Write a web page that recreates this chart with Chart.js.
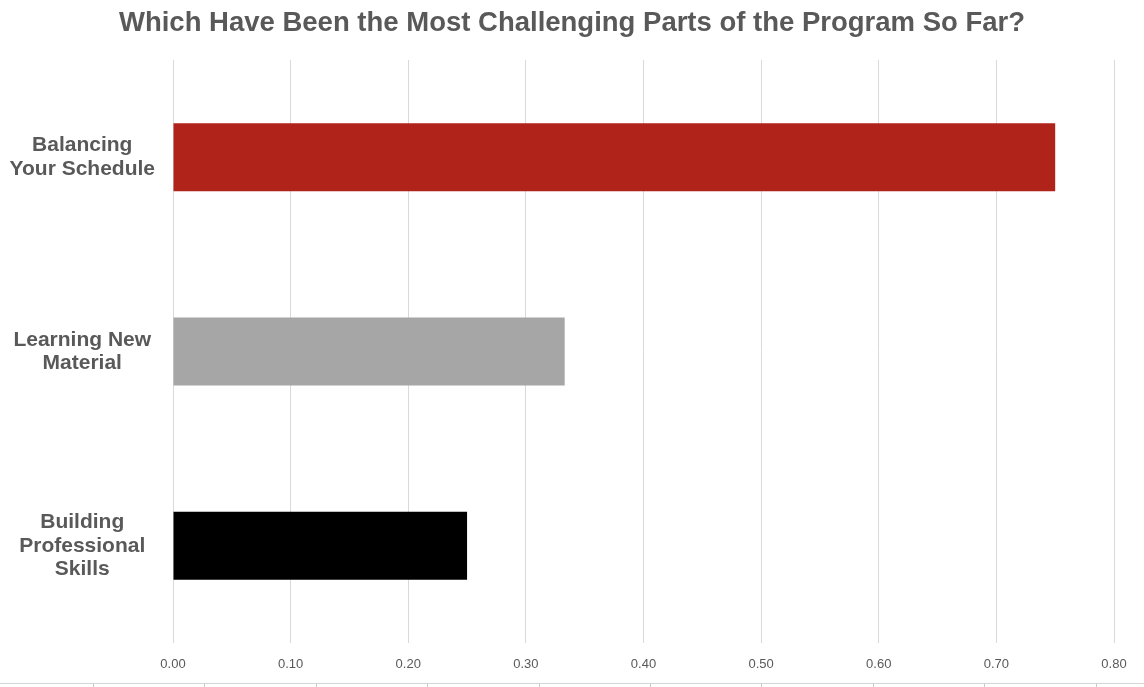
<!DOCTYPE html>
<html>
<head>
<meta charset="utf-8">
<script src="https://cdn.jsdelivr.net/npm/chart.js@4"></script>
<style>
    body{ margin:0; background:#fff; }
    #caixa{ position:relative; width:1144px; height:687px; }
    #regua{
        position:absolute; left:0; top:683px; width:1144px; height:4px;
        border-top:1px solid #d4d4d4;
        background:repeating-linear-gradient(to right, transparent 0, transparent 92px, #c8c8c8 92px, #c8c8c8 93px, transparent 93px, transparent 111.4px);
        background-position:1px 0;
    }
</style>
</head>
<body>
<div id="caixa">
    <canvas id="grafico" width="1144" height="687"></canvas>
    <div id="regua"></div>
</div>
<script>
var categorias = [
    ["Balancing", "Your Schedule"],
    ["Learning New", "Material"],
    ["Building", "Professional", "Skills"]
];
var valores = [0.75, 0.333, 0.25];
var cores = ["#b0231a", "#a6a6a6", "#000000"];
var ticksX = [0, 0.1, 0.2, 0.3, 0.4, 0.5, 0.6, 0.7, 0.8];

var cinza = "#595959";
var fonte = "'Liberation Sans', Arial, sans-serif";

let ctx = document.getElementById('grafico').getContext('2d');
let chart = new Chart(ctx, {
    type: "bar",
    data: {
        labels: categorias,
        datasets: [{
            data: valores,
            backgroundColor: cores,
            barPercentage: 0.35,
            categoryPercentage: 1
        }]
    },
    options: {
        indexAxis: "y",
        responsive: false,
        animation: false,
        layout: {
            padding: { left: 0, right: 0, top: 0, bottom: 14 }
        },
        plugins: {
            legend: { display: false },
            tooltip: { enabled: false },
            title: {
                display: true,
                text: "Which Have Been the Most Challenging Parts of the Program So Far?",
                color: cinza,
                font: { family: fonte, size: 27.5, weight: "bold", lineHeight: 1.2 },
                padding: { top: 6.5, bottom: 20.5 }
            }
        },
        scales: {
            x: {
                min: 0,
                max: 0.8,
                afterBuildTicks: function(scale){
                    scale.ticks = ticksX.map(function(v){ return { value: v } })
                },
                afterFit: function(scale){
                    scale.height = 30
                    // espaco a direita do grafico
                    scale.paddingRight = 30
                },
                grid: { color: "#d9d9d9", drawTicks: false },
                border: { display: false },
                ticks: {
                    color: cinza,
                    padding: 14,
                    font: { family: fonte, size: 13 },
                    callback: function(v){ return Number(v).toFixed(2) }
                }
            },
            y: {
                afterFit: function(scale){
                    scale.width = 173
                },
                grid: { display: false, drawTicks: false },
                border: { display: false },
                ticks: {
                    color: cinza,
                    padding: 18,
                    crossAlign: "center",
                    font: { family: fonte, size: 21, weight: "bold", lineHeight: 1.12 }
                }
            }
        }
    }
});
</script>
</body>
</html>
